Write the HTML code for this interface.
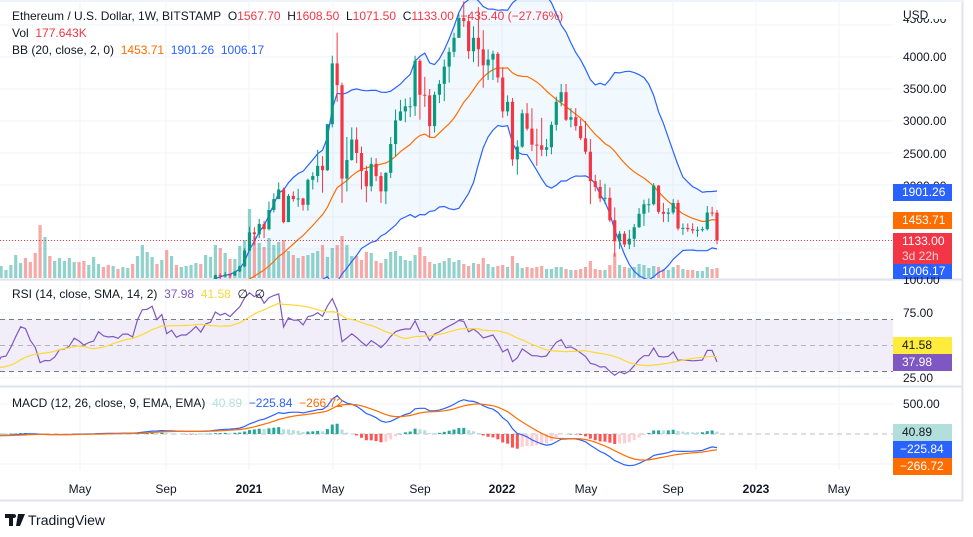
<!DOCTYPE html>
<html><head><meta charset="utf-8">
<style>
html,body{margin:0;padding:0;background:#fff;width:973px;height:537px;overflow:hidden;font-family:"Liberation Sans",sans-serif;}
#wrap{position:relative;width:973px;height:537px;}
svg{position:absolute;left:0;top:0;}
.lg{position:absolute;font-size:12px;color:#131722;white-space:nowrap;line-height:14px;}
.r{color:#f23645}
.ax{position:absolute;font-size:12px;color:#131722;left:903px;line-height:14px;}
.box{position:absolute;left:893px;width:59px;height:17px;font-size:12px;line-height:17px;color:#fff;text-align:left;padding-left:9px;box-sizing:border-box;}
.tl{position:absolute;top:482px;font-size:12px;color:#131722;transform:translateX(-50%);}
</style></head>
<body>
<div id="wrap">
<svg id="svg" width="973" height="537"></svg>

<div class="lg" style="left:12px;top:9px">Ethereum / U.S. Dollar, 1W, BITSTAMP&nbsp; O<span class="r">1567.70</span>&nbsp; H<span class="r">1608.50</span>&nbsp; L<span class="r">1071.50</span>&nbsp; C<span class="r">1133.00</span>&nbsp; <span class="r">−435.40 (−27.76%)</span></div>
<div class="lg" style="left:12px;top:26px">Vol&nbsp; <span class="r">177.643K</span></div>
<div class="lg" style="left:12px;top:43px">BB (20, close, 2, 0)&nbsp; <span style="color:#ff6d00">1453.71</span>&nbsp; <span style="color:#2962ff">1901.26</span>&nbsp; <span style="color:#2962ff">1006.17</span></div>
<div class="lg" style="left:12px;top:287px">RSI (14, close, SMA, 14, 2)&nbsp; <span style="color:#7e57c2">37.98</span>&nbsp; <span style="color:#f4d93a">41.58</span>&nbsp; ∅&nbsp; ∅</div>
<div class="lg" style="left:12px;top:396px">MACD (12, 26, close, 9, EMA, EMA)&nbsp; <span style="color:#b2dfdb">40.89</span>&nbsp; <span style="color:#2962ff">−225.84</span>&nbsp; <span style="color:#ff6d00">−266.72</span></div>

<div class="ax" style="top:8px">USD</div>
<div class="ax" style="top:19px;height:7px;overflow:hidden"><div style="margin-top:-7px">4500.00</div></div>
<div class="ax" style="top:50px">4000.00</div>
<div class="ax" style="top:82px">3500.00</div>
<div class="ax" style="top:114px">3000.00</div>
<div class="ax" style="top:147px">2500.00</div>
<div class="ax" style="top:179px">2000.00</div>
<div class="box" style="top:184px;background:#2962ff">1901.26</div>
<div class="box" style="top:212px;background:#ff6d00">1453.71</div>
<div class="box" style="top:233px;height:31px;background:#f23645;line-height:15px;padding-top:1px">1133.00<br><span style="color:#fbd0d4">3d 22h</span></div>
<div class="box" style="top:264px;height:15px;line-height:15px;background:#2962ff">1006.17</div>
<div class="ax" style="top:277px;height:9px;overflow:hidden"><div style="margin-top:-4px">100.00</div></div>
<div class="ax" style="top:306px">75.00</div>
<div class="box" style="top:337px;background:#ffeb3b;color:#131722">41.58</div>
<div class="box" style="top:354px;background:#7e57c2">37.98</div>
<div class="ax" style="top:371px">25.00</div>
<div class="ax" style="top:397px">500.00</div>
<div class="box" style="top:424px;background:#b2dfdb;color:#131722">40.89</div>
<div class="box" style="top:441px;background:#2962ff;padding-left:7px">−225.84</div>
<div class="box" style="top:458px;background:#ff6d00;padding-left:7px">−266.72</div>

<div class="tl" style="left:80px">May</div>
<div class="tl" style="left:166px">Sep</div>
<div class="tl" style="left:249px;font-weight:bold">2021</div>
<div class="tl" style="left:333px">May</div>
<div class="tl" style="left:420px">Sep</div>
<div class="tl" style="left:502px;font-weight:bold">2022</div>
<div class="tl" style="left:586px">May</div>
<div class="tl" style="left:673px">Sep</div>
<div class="tl" style="left:756px;font-weight:bold">2023</div>
<div class="tl" style="left:839px">May</div>

<div style="position:absolute;left:5px;top:512px;display:flex;align-items:center">
<svg width="20" height="12" viewBox="0 0 20 12" style="position:static"><path d="M0 0h8v12H4V4H0z M9 4a2 2 0 1 1 0.01 0z M13 0h7l-5 12h-4z" fill="#131722"/></svg>
<span style="font-size:14px;color:#131722;margin-left:3px">TradingView</span></div>
</div>

<script>
const firstOpen = 270;
const closes = [
295,310,290,290,230,215,220,210,230,200,185,190,215,225,170,180,170,185,185,180,160,185,175,150,150,150,145,130,135,145,165,
167,190, 223,265,260,225, 200,124,132,131,143, 170,172,183,215, 205,190,200,205, 245,232,228,230,225, 240,240,233,310, 390,395,427,385,430, 350,375,340,355, 355,380,415,390, 455,470,590,575,600, 585,650,730,975,
1260,1230,1390,1310, 1610,1780,1930,1420, 1830,1780,1790,1690,2080, 2140,2300,2230,2950, 3900,3560,2100,2390,2710, 2500,2220,1980,2330, 2140,1900,2190,2640, 3010,3150,3230,3230,3940, 3410,3400,2920,3410, 3580,3850,4080,4300, 4610,4560,4090,4300,4120, 3870,3960,4050,3680,
3150,3300,2400,2600,3120, 2880,2630,2620,2550, 2590,2940,3300,3450, 3020,3060,2920,2730, 2520,2060,1970,1790,1800, 1450,1120,1240,1070, 1160,1340,1550,1700, 1700,1990,1580,1550,1570, 1720,1320,1330,1310, 1290,1300,1310,1570,1567.7, 1133];
const highs = [
320,360,320,310,300,240,235,235,240,230,205,200,225,230,225,190,185,195,195,190,185,190,190,180,155,155,155,150,145,150,170,
175,192, 225,285,288,265, 250,205,140,145,150, 175,178,197,227, 215,215,215,215, 250,250,240,236,232, 245,250,245,320, 400,415,440,433,480, 435,390,385,365, 365,395,420,420, 470,475,600,620,640, 605,660,740,1010,
1350,1340,1470,1440, 1740,1870,2040,1960, 1860,1900,1940,1800,2100, 2200,2550,2450,2950, 4020,4380,3600,2750,2900, 2900,2600,2300,2430, 2420,2200,2200,2750, 3180,3330,3350,3370,4020, 3970,3690,3500,3460, 3640,3960,4150,4380, 4670,4870,4660,4480,4780, 4420,4120,4100,4080,
3840,3400,3360,2700,3180, 3280,3200,2880,3050, 2720,2990,3380,3580, 3580,3200,3200,3030, 3000,2720,2160,2080,2020, 1960,1650,1280,1280, 1300,1390,1640,1770, 1790,2030,2000,1720,1640, 1780,1770,1400,1400, 1400,1350,1350,1670,1660, 1608.5];
const lows = [
260,280,270,260,210,195,200,200,205,190,165,170,175,200,160,165,160,170,175,175,150,155,170,140,140,140,135,120,125,130,140,
160,162, 180,220,245,210, 195,90,110,120,125, 140,155,165,180, 180,180,185,195, 200,225,220,225,220, 218,230,225,230, 320,370,390,375,380, 310,330,325,325, 335,340,370,375, 380,440,450,510,560, 540,580,640,715,
970,1060,1170,1170, 1290,1570,1790,1400, 1430,1740,1660,1600,1600, 1930,2040,1880,2220, 2900,3300,1720,1900,2380, 2340,1930,1730,1900, 2060,1720,1700,2110, 2450,3000,2980,3060,3080, 3020,3220,2740,2820, 3280,3310,3600,4000, 4300,4470,3970,3920,3850, 3520,3640,3640,3600,
3050,3080,2300,2160,2580, 2850,2530,2300,2450, 2450,2480,2850,3230, 3000,2900,2850,2700, 2480,1700,1900,1730,1700, 1420,880,1000,1030, 1000,1030,1330,1360, 1570,1680,1550,1420,1420, 1540,1290,1220,1270, 1240,1190,1270,1290,1510, 1071.5];
const volumes = [
200,220,190,180,200,160,150,140,150,140,130,120,130,140,200,130,120,110,110,110,130,120,110,120,100,100,100,110,90,100,120,
80,130,230,150,200,160, 250,530,410,220,170, 200,170,200,160, 160,170,130,210, 140,110,130,120,90, 110,100,140,220, 330,260,210,140,180, 280,220,130,110, 120,130,150,140, 230,210,330,300,250, 190,190,320,380,
690,420,350,310, 400,330,360,380, 270,230,200,220,230, 250,270,330,210, 300,330,420,330,220, 220,180,260,250, 170,150,190,260, 270,220,180,170,230, 310,220,160,140, 150,170,200,160, 180,140,120,150,140, 200,140,110,120,
130,110,220,150,100, 110,100,110,120, 90,90,110,110, 90,80,80,90, 110,170,90,80,80, 130,250,130,110, 100,110,140,130, 100,120,110,90,80, 110,130,90,80, 80,70,70,110,90, 100];
const priceTicks = [4500,4000,3500,3000,2500,2000,1500,1000];
const rsiLevels = [70,50,30];
const monthGridX = [80,166,249,333,420,502,586,673,756,839];

const NS = "http://www.w3.org/2000/svg";
const svg = document.getElementById('svg');
function el(tag, attrs, parent){ const e=document.createElementNS(NS,tag); for(const k in attrs) e.setAttribute(k,attrs[k]); (parent||svg).appendChild(e); return e; }

const N = closes.length;
const STEP = 4.87;
const xOf = i => 717 - (N-1-i)*STEP;
const yP = p => 313 - p*0.064;
const yR = v => 345.5 - (v-50)*1.3;
const yM = v => 434 - v*0.06;
const yV = v => 278 - v*0.1;

const defs = el('defs',{});
function clip(id,y,h){ const c=el('clipPath',{id:id},defs); el('rect',{x:0,y:y,width:893,height:h},c); }
clip('cMain',0,279); clip('cRsi',280,106); clip('cMacd',387,83);

let g = el('g',{});


monthGridX.forEach(x=>{ el('line',{x1:x,x2:x,y1:0,y2:470,stroke:'#f0f3fa'},g); });
priceTicks.forEach(p=>{ el('line',{x1:0,x2:893,y1:yP(p),y2:yP(p),stroke:'#f0f3fa'},g); });
[100,75,25].forEach(v=>{ el('line',{x1:0,x2:893,y1:yR(v),y2:yR(v),stroke:'#f0f3fa'},g); });
[500,-500].forEach(v=>{ el('line',{x1:0,x2:893,y1:yM(v),y2:yM(v),stroke:'#f0f3fa'},g); });
const sep1 = el('line',{x1:0,x2:963,y1:279.5,y2:279.5,stroke:'#e0e3eb',"stroke-width":2});


const sep2 = el('line',{x1:0,x2:963,y1:386.5,y2:386.5,stroke:'#e0e3eb',"stroke-width":2});


const bR = el('line',{x1:962.5,x2:962.5,y1:0,y2:501,stroke:'#e0e3eb',"stroke-width":2});


const bB = el('line',{x1:0,x2:963,y1:500.5,y2:500.5,stroke:'#e0e3eb',"stroke-width":2});


const bT = el('line',{x1:0,x2:963,y1:1,y2:1,stroke:'#f0f3fa',"stroke-width":2});



const opens = closes.map((c,i)=> i===0 ? firstOpen : closes[i-1]);

const basis=[], upper=[], lower=[];
for(let i=0;i<N;i++){
  if(i<19){basis.push(null);upper.push(null);lower.push(null);continue;}
  const w=closes.slice(i-19,i+1); const m=w.reduce((a,b)=>a+b,0)/20;
  const sd=Math.sqrt(w.reduce((a,b)=>a+(b-m)*(b-m),0)/20);
  basis.push(m); upper.push(m+2*sd); lower.push(m-2*sd);
}
const main = el('g',{"clip-path":"url(#cMain)"});


let up='',lo='';
for(let i=19;i<N;i++){ up+=(up?'L':'M')+xOf(i).toFixed(1)+','+yP(upper[i]).toFixed(1); }
for(let i=N-1;i>=19;i--){ lo+='L'+xOf(i).toFixed(1)+','+yP(lower[i]).toFixed(1); }
const bbFill = el('path',{d:up+lo+'Z',fill:'rgba(33,150,243,0.06)'},main);



const vg = el('g',{},main);


for(let i=0;i<N;i++){
  const upc = closes[i]>=opens[i];
  const r = el('rect',{x:xOf(i)-1.6,y:yV(volumes[i]),width:3.2,height:278-yV(volumes[i]),fill: upc?'rgba(38,166,154,0.5)':'rgba(239,83,80,0.5)'},vg);
  
  
}
function line(arr, yf, color, parent, w){
  let d=''; arr.forEach((v,i)=>{ if(v==null) return; d+=(d?'L':'M')+xOf(i).toFixed(1)+','+yf(v).toFixed(1); });
  return el('path',{d:d,fill:'none',stroke:color,"stroke-width":w||1.2},parent);
}
const bu = line(upper,yP,'#2962ff',main);


const bl = line(lower,yP,'#2962ff',main);


const bm = line(basis,yP,'#ff6d00',main);



const cg = el('g',{},main);


for(let i=0;i<N;i++){
  const o=opens[i], c=closes[i];
  const h=Math.max(highs[i],o,c), l=Math.min(lows[i],o,c);
  const col = c>=o ? '#089981' : '#f23645';
  const x=xOf(i);
  const cand = el('g',{},cg);
  
  
  el('line',{x1:x,x2:x,y1:yP(h),y2:yP(l),stroke:col,"stroke-width":1},cand);
  const top=yP(Math.max(o,c)), bh=Math.max(1,yP(Math.min(o,c))-top);
  el('rect',{x:x-1.6,y:top,width:3.2,height:bh,fill:col},cand);
}
const lastLine = el('line',{x1:0,x2:893,y1:yP(closes[N-1]),y2:yP(closes[N-1]),stroke:'#f23645',"stroke-dasharray":"1 2"});



const rsi = new Array(N).fill(null);
let ag=0, al=0;
for(let i=1;i<N;i++){
  const ch=closes[i]-closes[i-1], gn=Math.max(ch,0), ls=Math.max(-ch,0);
  if(i<=14){ ag+=gn/14; al+=ls/14; if(i===14) rsi[i]=100-100/(1+ag/(al||1e-9)); }
  else { ag=(ag*13+gn)/14; al=(al*13+ls)/14; rsi[i]=100-100/(1+ag/(al||1e-9)); }
}
const rsiMa = rsi.map((v,i)=>{ if(i<27) return null; let s=0; for(let k=i-13;k<=i;k++) s+=rsi[k]; return s/14; });
const rg = el('g',{"clip-path":"url(#cRsi)"});


const rb = el('rect',{x:0,y:yR(70),width:893,height:yR(30)-yR(70),fill:'rgba(126,87,194,0.1)'},rg);


rsiLevels.forEach(v=>{
  const l = el('line',{x1:0,x2:893,y1:yR(v),y2:yR(v),stroke: v===50?'rgba(120,123,134,0.5)':'#787b86',"stroke-dasharray":"5 4"},rg);
  
  
});
const rl = line(rsi,yR,'#7e57c2',rg);


const rm = line(rsiMa,yR,'#fdd835',rg);



function ema(arr,n){ const k=2/(n+1); const out=[]; arr.forEach((v,i)=>out.push(i===0?v:v*k+out[i-1]*(1-k))); return out; }
const e12=ema(closes,12), e26=ema(closes,26);
const macd=closes.map((_,i)=>e12[i]-e26[i]);
const sig=ema(macd,9);
const hist=macd.map((v,i)=>v-sig[i]);
const mg = el('g',{"clip-path":"url(#cMacd)"});


const zl = el('line',{x1:0,x2:893,y1:yM(0),y2:yM(0),stroke:'rgba(120,123,134,0.5)',"stroke-dasharray":"5 4"},mg);


for(let i=0;i<N;i++){
  const h=hist[i], prev=i?hist[i-1]:0;
  const col = h>=0 ? (h>=prev?'#26a69a':'#b2dfdb') : (h<prev?'#ff5252':'#ffcdd2');
  const y1=Math.min(yM(h),yM(0)), hh=Math.max(0.5,Math.abs(yM(h)-yM(0)));
  const b = el('rect',{x:xOf(i)-1.5,y:y1,width:3,height:hh,fill:col},mg);
  
  
}
const ml = line(macd,yM,'#2962ff',mg);


const sl = line(sig,yM,'#ff6d00',mg);


</script>
</body></html>
